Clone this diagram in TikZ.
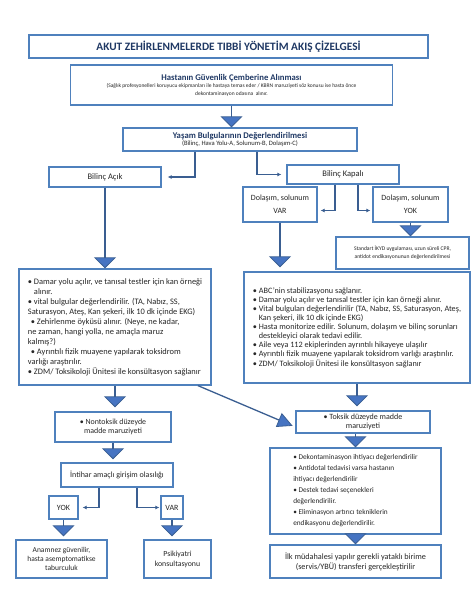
\documentclass[tikz,border=0pt]{standalone}
\usepackage{fontspec}
\setmainfont{Carlito}
\usetikzlibrary{positioning,calc,arrows.meta}

\definecolor{boxblue}{RGB}{79,129,189}
\definecolor{tipblue}{RGB}{70,116,194}
\definecolor{lineblue}{RGB}{58,94,145}
\definecolor{headnavy}{RGB}{31,56,100}
\definecolor{bodygray}{RGB}{38,38,38}
\newcommand{\hanggap}{\hphantom{•~}}

\begin{document}
\begin{tikzpicture}[
    x=1pt, y=-1pt,
    box/.style 2 args={rectangle, draw=boxblue, line width=1.3pt, fill=white, minimum width=#1, minimum height=#2, inner sep=2pt, align=center, text=bodygray, font=\fontsize{8}{9}\selectfont},
    bigarrow/.style={line width=1.3pt, draw=lineblue, -{Triangle[width=22pt, length=11pt, fill=tipblue, line width=0.8pt]}},
    smallarrow/.style={line width=1.3pt, draw=lineblue, -{Latex[length=4pt, width=4pt]}},
    ]
    \useasboundingbox (0,0) rectangle (474,602);

    %%% top of the chart %%%
    \node[box={399pt}{23pt}, font=\fontsize{11.3}{13}\selectfont\bfseries, text=headnavy] (title) at (228.5,46.5) {AKUT ZEHİRLENMELERDE TIBBİ YÖNETİM AKIŞ ÇİZELGESİ};
    \node[box={322pt}{40pt}, font=\fontsize{5.5}{7.5}\selectfont] (safety) at (231.5,85) {
        {\fontsize{8.7}{10}\selectfont\bfseries\color{headnavy}Hastanın Güvenlik Çemberine Alınması}\\
        (Sağlık profesyonelleri koruyucu ekipmanları ile hastaya temas eder / KBRN maruziyeti söz konusu ise hasta önce\\
        dekontaminasyon odasına\ \ alınır.
    };
    \node[box={234pt}{23pt}, font=\fontsize{6.6}{7.5}\selectfont] (vital) at (240,139.5) {
        {\fontsize{8.7}{10}\selectfont\bfseries\color{headnavy}Yaşam Bulgularının Değerlendirilmesi}\\
        (Bilinç, Hava Yolu-A, Solunum-B, Dolaşım-C)
    };

    %% consciousness
    \node[box={112pt}{20pt}, font=\fontsize{8.5}{10}\selectfont] (conscious) at (105,177) {Bilinç Açık};
    \node[box={112pt}{19pt}, font=\fontsize{8.5}{10}\selectfont] (unconscious) at (343,174.5) {Bilinç Kapalı};
    \node[box={74pt}{35pt}, font=\fontsize{8}{13}\selectfont] (circyes) at (280,204.5) {Dolaşım, solunum\\VAR};
    \node[box={75pt}{35pt}, font=\fontsize{8}{13}\selectfont] (circno) at (410.5,204.5) {Dolaşım, solunum\\YOK};
    \node[box={133pt}{32pt}, font=\fontsize{5.6}{8}\selectfont] (cpr) at (402.5,253) {Standart İKYD uygulaması, uzun süreli CPR,\\antidot endikasyonunun değerlendirilmesi};

    %% first management boxes
    \node[box={192pt}{116pt}, align=left, font=\fontsize{8.4}{10}\selectfont] (leftbig) at (115,327) {
        • Damar yolu açılır, ve tanısal testler için kan örneği\\
        \hanggap alınır.\\
        • vital bulgular değerlendirilir. (TA, Nabız, SS,\\
        Saturasyon, Ateş, Kan şekeri, ilk 10 dk içinde EKG)\\
        \hspace*{3pt}• Zehirlenme öyküsü alınır. (Neye, ne kadar,\\
        ne zaman, hangi yolla, ne amaçla maruz\\
        kalmış?)\\
        \hspace*{3pt}• Ayrıntılı fizik muayene yapılarak toksidrom\\
        varlığı araştırılır.\\
        • ZDM/ Toksikoloji Ünitesi ile konsültasyon sağlanır
    };
    \node[box={226pt}{111pt}, align=left, font=\fontsize{8.2}{9.1}\selectfont] (rightbig) at (357,327.5) {
        • ABC’nin stabilizasyonu sağlanır.\\
        • Damar yolu açılır ve tanısal testler için kan örneği alınır.\\
        • Vital bulguları değerlendirilir (TA, Nabız, SS, Saturasyon, Ateş,\\
        \hanggap Kan şekeri, ilk 10 dk içinde EKG)\\
        • Hasta monitorize edilir. Solunum, dolaşım ve bilinç sorunları\\
        \hanggap destekleyici olarak tedavi edilir.\\
        • Aile veya 112 ekiplerinden ayrıntılı hikayeye ulaşılır\\
        • Ayrıntılı fizik muayene yapılarak toksidrom varlığı araştırılır.\\
        • ZDM/ Toksikoloji Ünitesi ile konsültasyon sağlanır
    };

    %% exposure level
    \node[box={116pt}{30pt}, font=\fontsize{7.9}{9}\selectfont] (nontox) at (113,427) {• Nontoksik düzeyde\\madde maruziyeti};
    \node[box={134pt}{22pt}, font=\fontsize{8}{8.5}\selectfont] (tox) at (363,422) {• Toksik düzeyde madde\\maruziyeti};
    \node[box={112pt}{24pt}] (suicide) at (117,475) {İntihar amaçlı girişim olasılığı};
    \node[box={171pt}{86pt}, align=left, font=\fontsize{7.3}{11}\selectfont] (decon) at (355.5,491) {
        • Dekontaminasyon ihtiyacı değerlendirilir\\
        • Antidotal tedavisi varsa hastanın\\
        ihtiyacı değerlendirilir\\
        • Destek tedavi seçenekleri\\
        değerlendirilir.\\
        • Eliminasyon artırıcı tekniklerin\\
        endikasyonu değerlendirilir.
    };
    \node[box={171pt}{33pt}, font=\fontsize{8.2}{10}\selectfont] (transfer) at (355.5,561.5) {İlk müdahalesi yapılır gerekli yataklı birime\\(servis/YBÜ) transferi gerçekleştirilir};

    %% suicide branch
    \node[box={29pt}{23pt}] (syes) at (63.5,507.5) {YOK};
    \node[box={22pt}{23pt}] (sno) at (172,507.5) {VAR};
    \node[box={91pt}{38pt}, font=\fontsize{7.5}{9}\selectfont] (discharge) at (61.5,559) {Anamnez güvenilir,\\hasta asemptomatikse\\taburculuk};
    \node[box={67pt}{38pt}, font=\fontsize{7.8}{10}\selectfont] (psych) at (177.5,559) {Psikiyatri\\konsultasyonu};

    %%% connectors %%%
    % top
    \draw[bigarrow]   (safety.south) -- (safety.south |- vital.north);
    \draw[smallarrow, shorten >=6pt] ([xshift=-45pt]vital.south) |- (conscious.east);
    \draw[smallarrow, shorten >=5pt] ([xshift=17pt]vital.south) |- (unconscious.west);
    % unconscious branch
    \draw[smallarrow, shorten >=3pt] ([xshift=-8pt]unconscious.south) |- ([yshift=-6pt]circyes.east);
    \draw[smallarrow, shorten >=2pt] ([xshift=15pt]unconscious.south) |- ([yshift=-6pt]circno.west);
    \draw[bigarrow]   (circno.south) -- (circno.south |- cpr.north);
    \draw[bigarrow, shorten >=4pt]   (circyes.south) -- (circyes.south |- rightbig.north);
    % conscious branch
    \draw[bigarrow]   (conscious.south) -- (conscious.south |- leftbig.north);
    \draw[bigarrow, shorten >=4pt]   (leftbig.south) -- (leftbig.south |- nontox.north);
    \draw[line width=1.3pt, draw=lineblue, -{Triangle[width=15pt, length=15pt, fill=tipblue, line width=0.8pt]}, shorten >=3pt]
        ([xshift=83pt]leftbig.south) -- ([yshift=-5pt]tox.west);
    \draw[bigarrow, shorten >=3pt]   (nontox.south) -- (nontox.south |- suicide.north);
    \draw[smallarrow, shorten >=4pt] ([xshift=-18pt]suicide.south) |- (syes.east);
    \draw[smallarrow, shorten >=1pt] ([xshift=20pt]suicide.south) |- (sno.west);
    \draw[bigarrow, shorten >=3pt]   (syes.south) -- (syes.south |- discharge.north);
    \draw[bigarrow, shorten >=3pt]   (sno.south) -- (sno.south |- psych.north);
    % toxic branch
    \draw[bigarrow, shorten >=4pt]   (rightbig.south) -- (rightbig.south |- tox.north);
    \draw[bigarrow]   (decon.north |- tox.south) -- (decon.north);
    \draw[bigarrow]   (decon.south) -- (decon.south |- transfer.north);

\end{tikzpicture}
\end{document}
